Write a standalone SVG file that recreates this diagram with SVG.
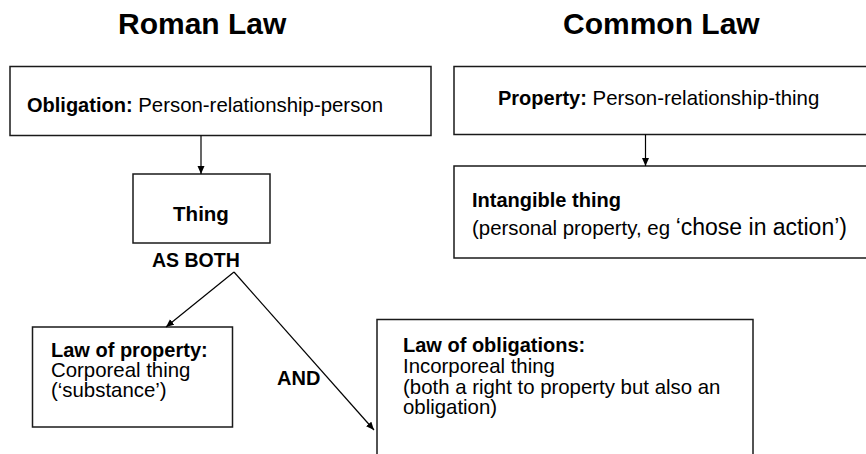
<svg xmlns="http://www.w3.org/2000/svg" width="866" height="454" viewBox="0 0 866 454">
<style>
text{font-family:"Liberation Sans",Arial,sans-serif;fill:#000;font-size:20.4px}
.b{font-weight:bold;font-size:20px}
.t{font-size:30px;font-weight:bold}
.box{fill:#fff;stroke:#1a1a1a;stroke-width:1.5}
.c{stroke:#000;stroke-width:1.2;fill:none}
</style>
<defs>
<marker id="ah" markerUnits="userSpaceOnUse" markerWidth="8" markerHeight="8" refX="8" refY="3.5" orient="auto">
<path d="M0,0 L8,3.5 L0,7 z" fill="#000"/>
</marker>
</defs>
<rect width="866" height="454" fill="#fff"/>
<text class="t" x="118" y="34">Roman Law</text>
<text class="t" x="563" y="34">Common Law</text>
<g id="obligation">
<rect class="box" x="10" y="66.5" width="421" height="69"/>
<text x="27" y="112"><tspan class="b">Obligation:</tspan> Person-relationship-person</text>
</g>
<g id="thing">
<rect class="box" x="133" y="174" width="137" height="69"/>
<text class="b" x="201" y="221" text-anchor="middle" style="font-size:20.5px">Thing</text>
</g>
<g id="property">
<rect class="box" x="454" y="66.5" width="420" height="68"/>
<text x="498" y="105"><tspan class="b">Property:</tspan> Person-relationship-thing</text>
</g>
<g id="intangible">
<rect class="box" x="454" y="166" width="420" height="92"/>
<text class="b" x="472" y="207">Intangible thing</text>
<text x="472" y="235">(personal property, eg <tspan style="font-size:23px">‘chose in action’)</tspan></text>
</g>
<g id="lawprop">
<rect class="box" x="32.5" y="327" width="200" height="100"/>
<text class="b" x="51" y="357">Law of property:</text>
<text x="51" y="377">Corporeal thing</text>
<text x="51" y="397">(‘substance’)</text>
</g>
<g id="lawobl">
<rect class="box" x="377" y="319.5" width="376" height="160"/>
<text class="b" x="403" y="352">Law of obligations:</text>
<text x="403" y="373">Incorporeal thing</text>
<text x="403" y="394">(both a right to property but also an</text>
<text x="403" y="414">obligation)</text>
</g>
<g id="connectors">
<line class="c" x1="201" y1="135.5" x2="201" y2="174" marker-end="url(#ah)"/>
<line class="c" x1="645.5" y1="134.5" x2="645.5" y2="166" marker-end="url(#ah)"/>
<line class="c" x1="234" y1="272" x2="166" y2="327" marker-end="url(#ah)"/>
<line class="c" x1="234" y1="272" x2="374" y2="430" marker-end="url(#ah)"/>
<text class="b" x="152" y="267" style="font-size:19.5px">AS BOTH</text>
<text class="b" x="277" y="385">AND</text>
</g>
</svg>
